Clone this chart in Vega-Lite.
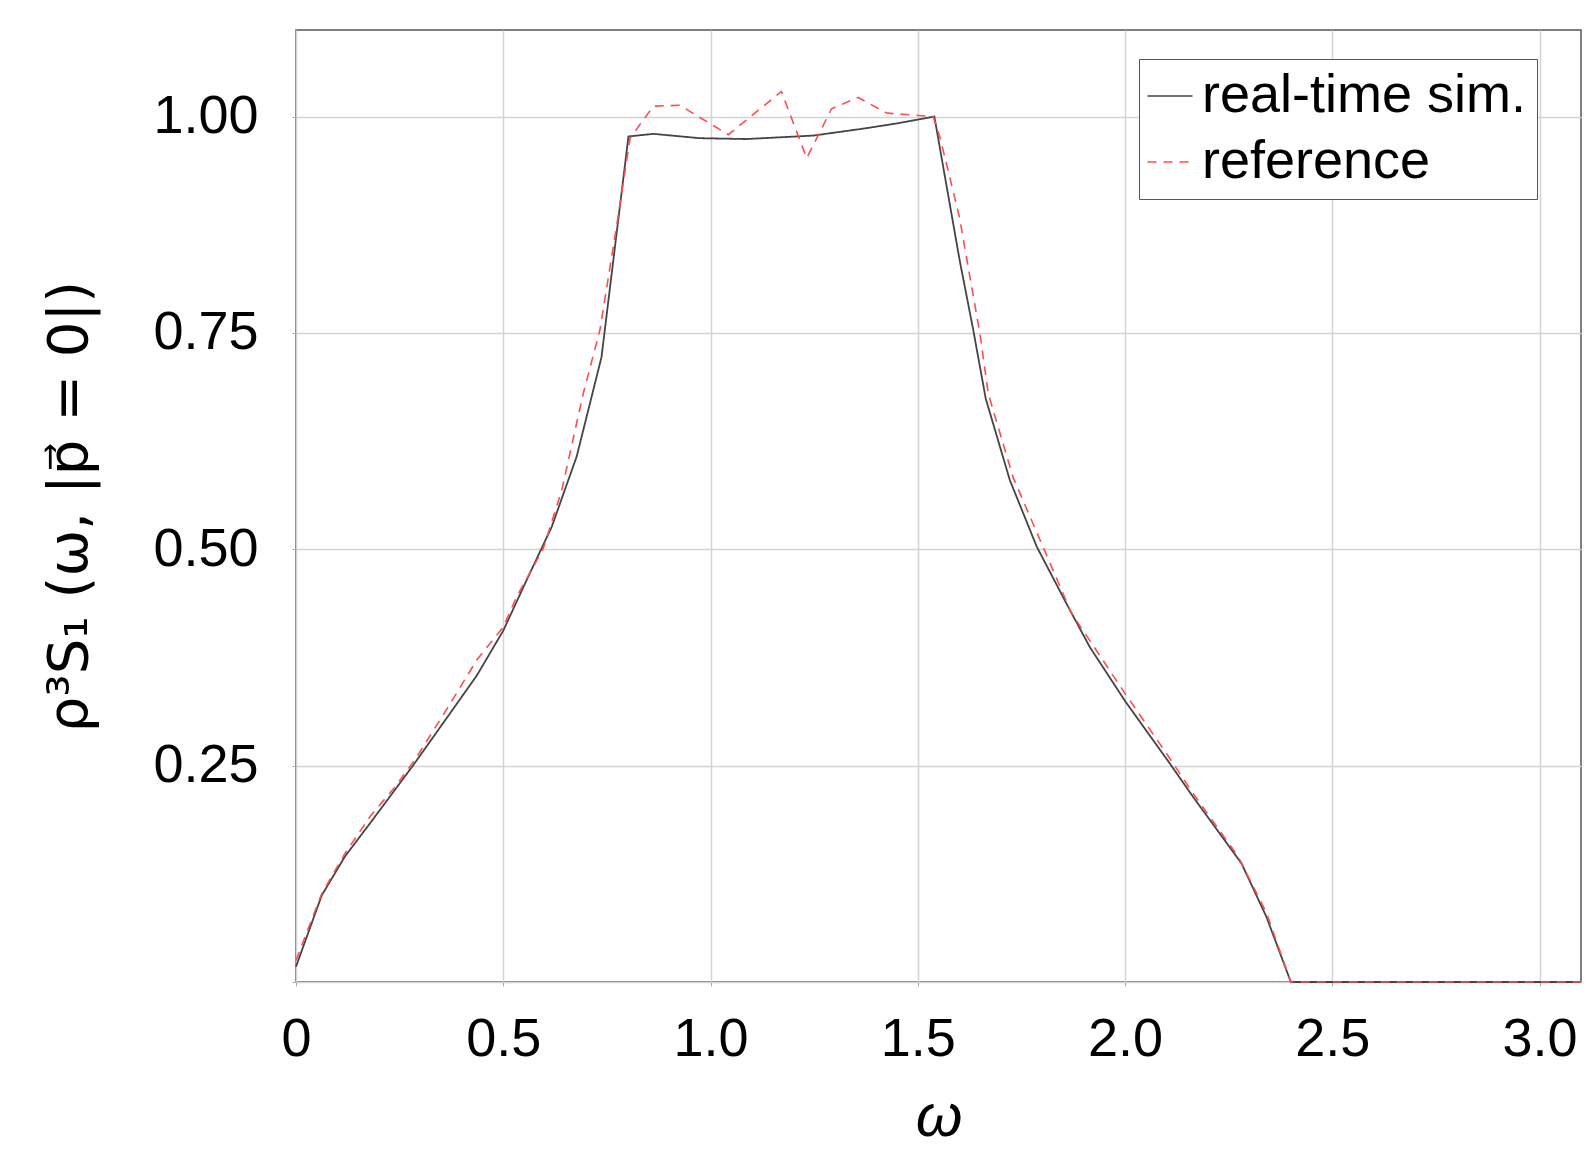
{
  "$schema": "https://vega.github.io/schema/vega-lite/v6.json",
  "width": 1285,
  "height": 952,
  "autosize": {"type": "none"},
  "padding": {"left": 296, "top": 30, "right": 5, "bottom": 167},
  "background": "white",
  "config": {
    "font": "Liberation Sans",
    "view": {"stroke": "#555555", "strokeWidth": 1.5},
    "axis": {
      "labelFont": "Liberation Sans",
      "titleFont": "Liberation Sans",
      "labelFontSize": 54,
      "titleFontSize": 60,
      "labelColor": "#000000",
      "titleColor": "#000000",
      "titleFontWeight": "normal",
      "gridColor": "#d4d4d4",
      "gridWidth": 1.5,
      "domain": false,
      "tickColor": "#aaaaaa",
      "tickSize": 4
    }
  },
  "datasets": {
    "curves": [
      {"omega": 0, "rho": 0.0177, "series": "real-time sim."},
      {"omega": 0.062, "rho": 0.100, "series": "real-time sim."},
      {"omega": 0.118, "rho": 0.145, "series": "real-time sim."},
      {"omega": 0.178, "rho": 0.183, "series": "real-time sim."},
      {"omega": 0.283, "rho": 0.2506, "series": "real-time sim."},
      {"omega": 0.371, "rho": 0.310, "series": "real-time sim."},
      {"omega": 0.436, "rho": 0.354, "series": "real-time sim."},
      {"omega": 0.5, "rho": 0.406, "series": "real-time sim."},
      {"omega": 0.556, "rho": 0.464, "series": "real-time sim."},
      {"omega": 0.617, "rho": 0.526, "series": "real-time sim."},
      {"omega": 0.677, "rho": 0.607, "series": "real-time sim."},
      {"omega": 0.737, "rho": 0.722, "series": "real-time sim."},
      {"omega": 0.802, "rho": 0.977, "series": "real-time sim."},
      {"omega": 0.862, "rho": 0.980, "series": "real-time sim."},
      {"omega": 0.974, "rho": 0.975, "series": "real-time sim."},
      {"omega": 1.087, "rho": 0.974, "series": "real-time sim."},
      {"omega": 1.248, "rho": 0.978, "series": "real-time sim."},
      {"omega": 1.368, "rho": 0.986, "series": "real-time sim."},
      {"omega": 1.449, "rho": 0.992, "series": "real-time sim."},
      {"omega": 1.540, "rho": 1.000, "series": "real-time sim."},
      {"omega": 1.601, "rho": 0.834, "series": "real-time sim."},
      {"omega": 1.634, "rho": 0.753, "series": "real-time sim."},
      {"omega": 1.664, "rho": 0.674, "series": "real-time sim."},
      {"omega": 1.722, "rho": 0.580, "series": "real-time sim."},
      {"omega": 1.787, "rho": 0.503, "series": "real-time sim."},
      {"omega": 1.859, "rho": 0.437, "series": "real-time sim."},
      {"omega": 1.915, "rho": 0.387, "series": "real-time sim."},
      {"omega": 2.001, "rho": 0.324, "series": "real-time sim."},
      {"omega": 2.108, "rho": 0.2525, "series": "real-time sim."},
      {"omega": 2.164, "rho": 0.214, "series": "real-time sim."},
      {"omega": 2.281, "rho": 0.137, "series": "real-time sim."},
      {"omega": 2.341, "rho": 0.0754, "series": "real-time sim."},
      {"omega": 2.400, "rho": 0, "series": "real-time sim."},
      {"omega": 3.1, "rho": 0, "series": "real-time sim."},
      {"omega": 0, "rho": 0.025, "series": "reference"},
      {"omega": 0.062, "rho": 0.102, "series": "reference"},
      {"omega": 0.12, "rho": 0.150, "series": "reference"},
      {"omega": 0.18, "rho": 0.192, "series": "reference"},
      {"omega": 0.24, "rho": 0.226, "series": "reference"},
      {"omega": 0.29, "rho": 0.259, "series": "reference"},
      {"omega": 0.37, "rho": 0.320, "series": "reference"},
      {"omega": 0.436, "rho": 0.372, "series": "reference"},
      {"omega": 0.5, "rho": 0.410, "series": "reference"},
      {"omega": 0.532, "rho": 0.445, "series": "reference"},
      {"omega": 0.596, "rho": 0.500, "series": "reference"},
      {"omega": 0.641, "rho": 0.568, "series": "reference"},
      {"omega": 0.693, "rho": 0.680, "series": "reference"},
      {"omega": 0.733, "rho": 0.753, "series": "reference"},
      {"omega": 0.773, "rho": 0.872, "series": "reference"},
      {"omega": 0.806, "rho": 0.975, "series": "reference"},
      {"omega": 0.862, "rho": 1.012, "series": "reference"},
      {"omega": 0.926, "rho": 1.013, "series": "reference"},
      {"omega": 1.043, "rho": 0.979, "series": "reference"},
      {"omega": 1.171, "rho": 1.029, "series": "reference"},
      {"omega": 1.232, "rho": 0.952, "series": "reference"},
      {"omega": 1.292, "rho": 1.009, "series": "reference"},
      {"omega": 1.356, "rho": 1.022, "series": "reference"},
      {"omega": 1.425, "rho": 1.004, "series": "reference"},
      {"omega": 1.537, "rho": 1.000, "series": "reference"},
      {"omega": 1.553, "rho": 0.977, "series": "reference"},
      {"omega": 1.600, "rho": 0.885, "series": "reference"},
      {"omega": 1.650, "rho": 0.749, "series": "reference"},
      {"omega": 1.670, "rho": 0.680, "series": "reference"},
      {"omega": 1.730, "rho": 0.583, "series": "reference"},
      {"omega": 1.802, "rho": 0.503, "series": "reference"},
      {"omega": 1.871, "rho": 0.426, "series": "reference"},
      {"omega": 1.931, "rho": 0.383, "series": "reference"},
      {"omega": 1.995, "rho": 0.337, "series": "reference"},
      {"omega": 2.100, "rho": 0.264, "series": "reference"},
      {"omega": 2.164, "rho": 0.218, "series": "reference"},
      {"omega": 2.273, "rho": 0.145, "series": "reference"},
      {"omega": 2.341, "rho": 0.080, "series": "reference"},
      {"omega": 2.400, "rho": 0, "series": "reference"},
      {"omega": 3.1, "rho": 0, "series": "reference"}
    ]
  },
  "data": {"name": "curves"},
  "encoding": {
    "x": {
      "field": "omega",
      "type": "quantitative",
      "scale": {"domain": [0, 3.1], "nice": false, "zero": false},
      "axis": {
        "title": "ω",
        "titleFontStyle": "italic",
        "values": [0, 0.5, 1, 1.5, 2, 2.5, 3],
        "labelExpr": "datum.value == 0 ? '0' : format(datum.value, '.1f')",
        "labelPadding": 26,
        "titlePadding": 22,
        "labelFlush": false,
        "labelOverlap": false
      }
    },
    "y": {
      "field": "rho",
      "type": "quantitative",
      "scale": {"domain": [0, 1.1], "nice": false, "zero": false},
      "axis": {
        "title": "ρ³S₁ (ω, |p⃗ = 0|)",
        "titleFont": "DejaVu Sans",
        "titleFontSize": 56,
        "values": [0, 0.25, 0.5, 0.75, 1.0],
        "labelExpr": "datum.value == 0 ? '' : format(datum.value, '.2f')",
        "labelPadding": 34,
        "titlePadding": 54,
        "labelFlush": false,
        "labelOverlap": false
      }
    },
    "color": {
      "field": "series",
      "type": "nominal",
      "scale": {"domain": ["real-time sim.", "reference"], "range": ["#444444", "#ff4d4d"]},
      "legend": {
        "title": null,
        "orient": "none",
        "legendX": 843,
        "legendY": 29,
        "strokeColor": "#555555",
        "fillColor": "white",
        "padding": 10,
        "symbolType": "stroke",
        "symbolSize": 2025,
        "symbolStrokeWidth": 1.5,
        "symbolOffset": -6,
        "labelFontSize": 54,
        "labelFont": "Liberation Sans",
        "labelColor": "#000000",
        "labelOffset": 5,
        "rowPadding": 12,
        "labelLimit": 600
      }
    },
    "strokeDash": {
      "field": "series",
      "type": "nominal",
      "scale": {"domain": ["real-time sim.", "reference"], "range": [[1, 0], [9, 7]]},
      "legend": {
        "title": null,
        "orient": "none",
        "legendX": 843,
        "legendY": 29,
        "strokeColor": "#555555",
        "fillColor": "white",
        "padding": 10,
        "symbolType": "stroke",
        "symbolSize": 2025,
        "symbolStrokeWidth": 1.5,
        "symbolOffset": -6,
        "labelFontSize": 54,
        "labelFont": "Liberation Sans",
        "labelColor": "#000000",
        "labelOffset": 5,
        "rowPadding": 12,
        "labelLimit": 600
      }
    }
  },
  "layer": [
    {
      "transform": [{"filter": "datum.series == 'real-time sim.'"}],
      "mark": {"type": "line", "strokeWidth": 1.8}
    },
    {
      "transform": [{"filter": "datum.series == 'reference'"}],
      "mark": {"type": "line", "strokeWidth": 1.6}
    }
  ]
}
